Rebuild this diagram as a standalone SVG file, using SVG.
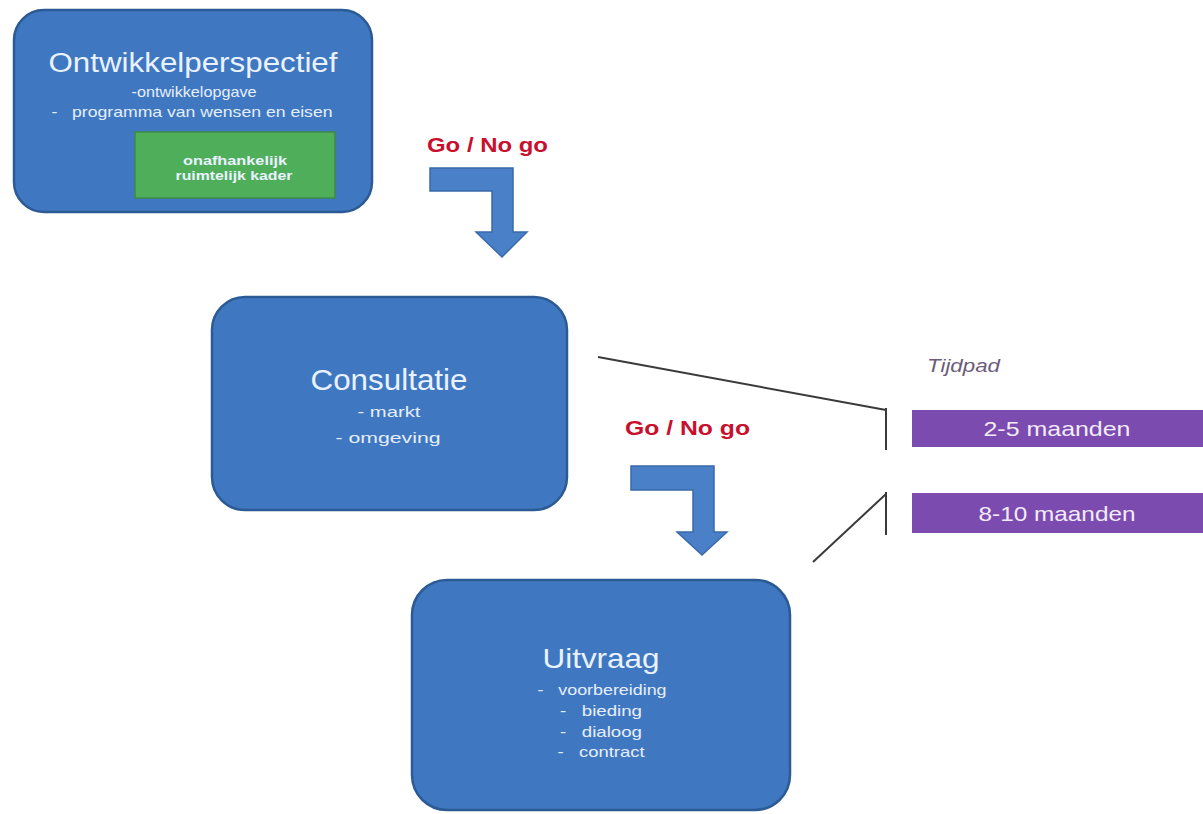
<svg xmlns="http://www.w3.org/2000/svg" width="1203" height="814" viewBox="0 0 1203 814">
<style>
.box{fill:#3f78c1;stroke:#2c5a94;stroke-width:2.5}
.t{font-family:"Liberation Sans",Arial,sans-serif;fill:#eaf2ff;text-anchor:middle}
.sub{font-family:"Liberation Sans",Arial,sans-serif;fill:#e6eefc;text-anchor:middle;font-size:15px}
.go{font-family:"Liberation Sans",Arial,sans-serif;fill:#c8102e;font-weight:bold;font-size:21px}
.arrow{fill:#4a80c8;stroke:#3a6aa8;stroke-width:1.5}
.tl{stroke:#3a3a3a;stroke-width:2;fill:none}
.pur{fill:#7c4bb0}
.pt{font-family:"Liberation Sans",Arial,sans-serif;fill:#f2ecfa;text-anchor:middle;font-size:21px}
</style>
<rect width="1203" height="814" fill="#ffffff"/>

<g id="ontwikkelperspectief">
<rect class="box" x="14" y="10" width="358" height="202" rx="30"/>
<text class="t" x="193" y="72" font-size="27" textLength="289" lengthAdjust="spacingAndGlyphs">Ontwikkelperspectief</text>
<text class="sub" x="194" y="97" font-size="14" textLength="125" lengthAdjust="spacingAndGlyphs">-ontwikkelopgave</text>
<text class="sub" x="192" y="117" font-size="14" textLength="281" lengthAdjust="spacingAndGlyphs" xml:space="preserve">-   programma van wensen en eisen</text>
<g id="kader">
<rect x="135" y="132" width="200" height="66" fill="#4fae5a" stroke="#3c8a44" stroke-width="1.5"/>
<text class="t" x="235" y="165" font-size="12.5" font-weight="bold" textLength="104" lengthAdjust="spacingAndGlyphs">onafhankelijk</text>
<text class="t" x="234" y="180" font-size="12.5" font-weight="bold" textLength="117" lengthAdjust="spacingAndGlyphs">ruimtelijk kader</text>
</g>
</g>

<g id="consultatie">
<rect class="box" x="212" y="297" width="355" height="213" rx="33"/>
<text class="t" x="389" y="390" font-size="29" textLength="157" lengthAdjust="spacingAndGlyphs">Consultatie</text>
<text class="sub" x="389" y="417" font-size="16" textLength="63" lengthAdjust="spacingAndGlyphs">- markt</text>
<text class="sub" x="388" y="443" font-size="16" textLength="105" lengthAdjust="spacingAndGlyphs">- omgeving</text>
</g>

<g id="uitvraag">
<rect class="box" x="412" y="580" width="378" height="230" rx="35"/>
<text class="t" x="601" y="668" font-size="28" textLength="117" lengthAdjust="spacingAndGlyphs">Uitvraag</text>
<text class="sub" x="602" y="695" textLength="129" lengthAdjust="spacingAndGlyphs" xml:space="preserve">-   voorbereiding</text>
<text class="sub" x="601" y="716" textLength="82" lengthAdjust="spacingAndGlyphs" xml:space="preserve">-   bieding</text>
<text class="sub" x="601" y="737" textLength="82" lengthAdjust="spacingAndGlyphs" xml:space="preserve">-   dialoog</text>
<text class="sub" x="601" y="757" textLength="87" lengthAdjust="spacingAndGlyphs" xml:space="preserve">-   contract</text>
</g>

<g id="tijdpad">
<text x="927" y="372" font-family="'Liberation Sans',Arial,sans-serif" font-style="italic" font-size="19" fill="#6b5c7c" textLength="73" lengthAdjust="spacingAndGlyphs">Tijdpad</text>
<g id="periode1">
<rect class="pur" x="912" y="410" width="291" height="37"/>
<text class="pt" x="1057" y="436" textLength="147" lengthAdjust="spacingAndGlyphs">2-5 maanden</text>
</g>
<g id="periode2">
<rect class="pur" x="912" y="493" width="291" height="40"/>
<text class="pt" x="1057" y="521" textLength="157" lengthAdjust="spacingAndGlyphs">8-10 maanden</text>
</g>
</g>

<g id="connectors">
<text class="go" x="427" y="152" textLength="121" lengthAdjust="spacingAndGlyphs">Go / No go</text>
<path class="arrow" d="M430,168 H513 V232 H527 L502,257 L476,232 H492 V191 H430 Z"/>
<text class="go" x="625" y="435" textLength="125" lengthAdjust="spacingAndGlyphs">Go / No go</text>
<path class="arrow" d="M631,466 H714 V532 H727 L702,555 L677,532 H693 V490 H631 Z"/>
<path class="tl" d="M598,357 L886,410"/>
<path class="tl" d="M886,408 V450"/>
<path class="tl" d="M813,562 L886,494"/>
<path class="tl" d="M886,492 V535"/>
</g>
</svg>
